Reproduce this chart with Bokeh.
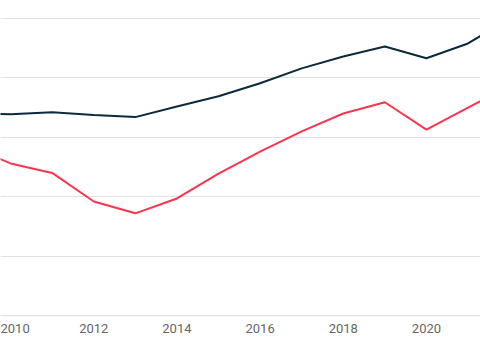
from bokeh.plotting import figure
from bokeh.models import Range1d, FixedTicker
from bokeh.embed import file_html
from bokeh.resources import INLINE

years = [2009, 2010, 2011, 2012, 2013, 2014, 2015, 2016, 2017, 2018, 2019, 2020, 2021, 2022]
series_dark = [34.0, 33.9, 34.2, 33.75, 33.4, 35.2, 36.9, 39.1, 41.6, 43.6, 45.3, 43.3, 45.8, 50.0]
series_red = [28.5, 25.6, 24.0, 19.2, 17.2, 19.7, 23.9, 27.6, 31.0, 34.0, 35.9, 31.3, 35.0, 38.7]
x_ticks = [2010, 2012, 2014, 2016, 2018, 2020]
y_grid = [0, 10, 20, 30, 40, 50]

p = figure(width=480, height=354, output_backend="svg", toolbar_location=None,
           x_range=Range1d(2009.757, 2021.30), y_range=Range1d(0, 53.03),
           min_border_left=0, min_border_right=0, min_border_top=0, min_border_bottom=39)
p.outline_line_color = None
p.background_fill_color = "white"
p.border_fill_color = "white"

p.line(years, series_dark, line_color="#0c2a3d", line_width=2)
p.line(years, series_red, line_color="#fb3450", line_width=2)

p.yaxis.visible = False
p.xgrid.visible = False
p.ygrid.ticker = FixedTicker(ticks=y_grid)
p.ygrid.grid_line_color = "#e2e2e2"
p.ygrid.grid_line_width = 1

ax = p.xaxis[0]
ax.ticker = FixedTicker(ticks=x_ticks)
ax.axis_line_color = "#dcdcdc"
ax.major_tick_line_color = None
ax.minor_tick_line_color = None
ax.major_label_standoff = 2
ax.major_label_text_font = "Roboto"
ax.major_label_text_font_size = "13px"
ax.major_label_text_color = "#666666"

open("out.html", "w").write(file_html(p, INLINE))
